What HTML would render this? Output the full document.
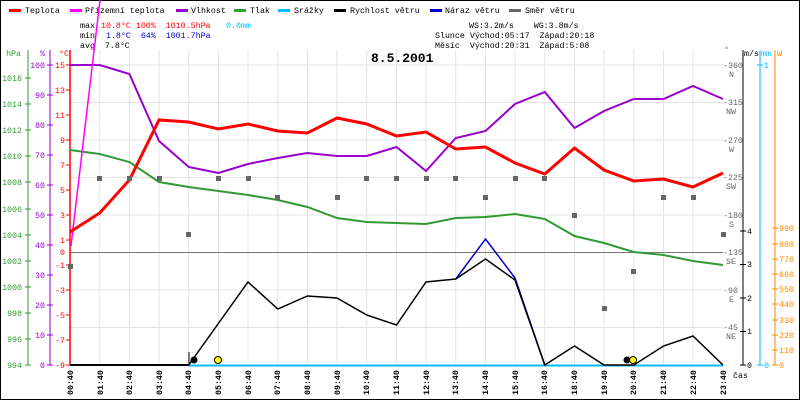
<!DOCTYPE html><html><head><style>body{margin:0;background:#fff}svg{display:block;font-family:"Liberation Mono",monospace}</style></head><body>
<svg width="800" height="400" xmlns="http://www.w3.org/2000/svg">
<rect x="0.5" y="0.5" width="799" height="399" fill="#fff" stroke="#000"/>
<g font-size="8.3">
<rect x="9" y="9" width="12" height="3" fill="#f00"/><text x="25" y="13">Teplota</text>
<rect x="70" y="9" width="12" height="3" fill="#f0f"/><text x="85" y="13">Přízemní teplota</text>
<rect x="176" y="9" width="12" height="3" fill="#90c"/><text x="191" y="13">Vlhkost</text>
<rect x="234" y="9" width="12" height="3" fill="#393"/><text x="250" y="13">Tlak</text>
<rect x="278" y="9" width="12" height="3" fill="#0bf"/><text x="294" y="13">Srážky</text>
<rect x="334" y="9" width="12" height="3" fill="#000"/><text x="350" y="13">Rychlost větru</text>
<rect x="430" y="9" width="12" height="3" fill="#00c"/><text x="445" y="13">Náraz větru</text>
<rect x="509" y="9" width="12" height="3" fill="#666"/><text x="525" y="13">Směr větru</text>
<text x="80" y="28" xml:space="preserve">max</text><text x="101" y="28" fill="#f00" xml:space="preserve">10.8°C 100%  1010.5hPa</text><text x="226" y="28" fill="#0bf">0.0mm</text>
<text x="80" y="38" xml:space="preserve">min</text><text x="101" y="38" fill="#00c" xml:space="preserve"> 1.8°C  64%  1001.7hPa</text>
<text x="80" y="48" xml:space="preserve">avg  7.8°C</text>
<text x="469" y="28" xml:space="preserve">WS:3.2m/s    WG:3.8m/s</text>
<text x="435" y="38" xml:space="preserve">Slunce Východ:05:17  Západ:20:18</text>
<text x="435" y="48" xml:space="preserve">Měsíc  Východ:20:31  Západ:5:08</text>
</g>
<text x="371" y="62" font-size="13" font-weight="bold">8.5.2001</text>
<g stroke="#e4e4e4" stroke-width="1">
<path d="M70 102.5H723M70 140H723M70 177.5H723M70 215H723M70 290H723M70 327.5H723M70 65H723"/>
<path d="M99.7 50V365M129.4 50V365M159 50V365M188.7 50V365M218.4 50V365M248 50V365M277.8 50V365M307.4 50V365M337 50V365M366.8 50V365M396.5 50V365M426 50V365M455.8 50V365M485.5 50V365M515 50V365M544.8 50V365M574.5 50V365M604 50V365M633.8 50V365M663.5 50V365M693 50V365"/>
</g>
<line x1="70" y1="252.5" x2="723" y2="252.5" stroke="#777"/>
<g font-size="8.3" text-anchor="end">
<line x1="28" y1="50" x2="28" y2="365" stroke="#393"/>
<path stroke="#393" d="M25 365H31M25 339H31M25 313H31M25 287H31M25 261H31M25 235H31M25 209H31M25 182H31M25 156H31M25 130H31M25 104H31M25 78H31"/>
<text x="21" y="56" fill="#393">hPa</text>
<g fill="#393">
<text x="22" y="368">994</text><text x="22" y="342">996</text><text x="22" y="316">998</text><text x="22" y="290">1000</text><text x="22" y="264">1002</text><text x="22" y="238">1004</text><text x="22" y="212">1006</text><text x="22" y="185">1008</text><text x="22" y="159">1010</text><text x="22" y="133">1012</text><text x="22" y="107">1014</text><text x="22" y="81">1016</text>
</g>
<line x1="50" y1="50" x2="50" y2="365" stroke="#90c"/>
<path stroke="#90c" d="M47 365H53M47 335H53M47 305H53M47 275H53M47 245H53M47 215H53M47 185H53M47 155H53M47 125H53M47 95H53M47 65H53"/>
<g fill="#90c"><text x="45" y="56">%</text>
<text x="45" y="368">0</text><text x="45" y="338">10</text><text x="45" y="308">20</text><text x="45" y="278">30</text><text x="45" y="248">40</text><text x="45" y="218">50</text><text x="45" y="188">60</text><text x="45" y="158">70</text><text x="45" y="128">80</text><text x="45" y="98">90</text><text x="45" y="68">100</text></g>
<line x1="70" y1="50" x2="70" y2="365" stroke="#f00" stroke-width="1.5"/>
<path stroke="#f00" d="M66 65H70M66 90H70M66 115H70M66 140H70M66 165H70M66 190H70M66 215H70M66 240H70M66 265H70M66 290H70M66 315H70M66 340H70M66 365H70"/>
<g fill="#f00"><text x="69" y="56">°C</text>
<text x="65" y="68">15</text><text x="65" y="93">13</text><text x="65" y="118">11</text><text x="65" y="143">9</text><text x="65" y="168">7</text><text x="65" y="193">5</text><text x="65" y="218">3</text><text x="65" y="243">1</text><text x="65" y="255">0</text><text x="65" y="268">-1</text><text x="65" y="293">-3</text><text x="65" y="318">-5</text><text x="65" y="343">-7</text><text x="65" y="368">-9</text></g>
</g>
<g font-size="8.3" fill="#666">
<text x="724" y="52">°</text>
<text x="723" y="68">-360</text><text x="729" y="77">N</text>
<text x="723" y="105">-315</text><text x="726" y="114">NW</text>
<text x="723" y="143">-270</text><text x="729" y="152">W</text>
<text x="723" y="180">-225</text><text x="726" y="189">SW</text>
<text x="723" y="218">-180</text><text x="729" y="227">S</text>
<text x="723" y="255">-135</text><text x="726" y="264">SE</text>
<text x="723" y="293">-90</text><text x="729" y="302">E</text>
<text x="723" y="330">-45</text><text x="726" y="339">NE</text>
</g>
<line x1="743" y1="50" x2="743" y2="365" stroke="#000"/>
<line x1="760" y1="50" x2="760" y2="365" stroke="#0bf"/>
<line x1="775" y1="50" x2="775" y2="365" stroke="#f80"/>
<path stroke="#000" d="M740 365H746M740 331.5H746M740 298H746M740 264.5H746M740 231H746"/>
<path stroke="#0bf" d="M757 365H763M757 65H763"/>
<path stroke="#f80" d="M772 365H778M772 350H778M772 335H778M772 320H778M772 304H778M772 289H778M772 274H778M772 259H778M772 244H778M772 228H778"/>
<g font-size="8.3"><text x="744" y="56">m/s</text><text x="761" y="56" fill="#0bf">mm</text><text x="777" y="56" fill="#f80">W</text>
<text x="747" y="368">0</text><text x="747" y="334">1</text><text x="747" y="301">2</text><text x="747" y="267">3</text><text x="747" y="234">4</text>
<text x="764" y="68" fill="#0bf">1</text><text x="764" y="368" fill="#0bf">0</text>
<g fill="#f80"><text x="779" y="368">0</text><text x="779" y="353">110</text><text x="779" y="338">220</text><text x="779" y="323">330</text><text x="779" y="307">440</text><text x="779" y="292">550</text><text x="779" y="277">660</text><text x="779" y="262">770</text><text x="779" y="247">880</text><text x="779" y="231">990</text></g>
</g>
<polyline fill="none" stroke="#393" stroke-width="2" points="70,150 99.7,154 129.4,162 159,182 188.7,187 218.4,191 248,195 277.8,200 307.4,207 337,218 366.8,222 396.5,223 426,224 455.8,218 485.5,217 515,214 544.8,219 574.5,236 604,243 633.8,252 663.5,255 693,261 723,265"/>
<polyline fill="none" stroke="#90c" stroke-width="2" points="70,65 99.7,65 129.4,74 159,141 188.7,167 218.4,173 248,164 277.8,158 307.4,153 337,156 366.8,156 396.5,147 426,171 455.8,138 485.5,131 515,104 544.8,92 574.5,128 604,111 633.8,99 663.5,99 693,86 723,99"/>
<polyline fill="none" stroke="#f0f" stroke-width="1.5" points="71,246 100,0"/>
<polyline fill="none" stroke="#f00" stroke-width="3" points="70,232 99.7,213 129.4,180 159,120 188.7,122 218.4,129 248,124 277.8,131 307.4,133 337,118 366.8,124 396.5,136 426,132 455.8,149 485.5,147 515,163 544.8,174 574.5,148 604,170 633.8,181 663.5,179 693,187 723,173"/>
<line x1="188" y1="365.5" x2="723" y2="365.5" stroke="#0bf" stroke-width="2"/>
<polyline fill="none" stroke="#00c" stroke-width="1.5" points="455.8,279 485.5,239 515,278 544.8,365"/>
<polyline fill="none" stroke="#000" stroke-width="1.5" points="70,365 188.7,365 248,282 277.8,309 307.4,296 337,298 366.8,315 396.5,325 426,282 455.8,279 485.5,259 515,280 544.8,365 574.5,346 604,365 633.8,365 663.5,346 693,336 723,365"/>
<line x1="70" y1="365" x2="188" y2="365" stroke="#000" stroke-width="2"/>
<line x1="189" y1="352" x2="189" y2="365" stroke="#000"/>
<g fill="#666">
<rect x="68" y="264" width="5" height="5"/><rect x="97" y="176" width="5" height="5"/><rect x="127" y="176" width="5" height="5"/><rect x="157" y="176" width="5" height="5"/><rect x="186" y="232" width="5" height="5"/><rect x="216" y="176" width="5" height="5"/><rect x="246" y="176" width="5" height="5"/><rect x="275" y="195" width="5" height="5"/><rect x="335" y="195" width="5" height="5"/><rect x="364" y="176" width="5" height="5"/><rect x="394" y="176" width="5" height="5"/><rect x="424" y="176" width="5" height="5"/><rect x="453" y="176" width="5" height="5"/><rect x="483" y="195" width="5" height="5"/><rect x="513" y="176" width="5" height="5"/><rect x="542" y="176" width="5" height="5"/><rect x="572" y="213" width="5" height="5"/><rect x="602" y="306" width="5" height="5"/><rect x="631" y="269" width="5" height="5"/><rect x="661" y="195" width="5" height="5"/><rect x="691" y="195" width="5" height="5"/><rect x="721" y="232" width="5" height="5"/>
</g>
<circle cx="194" cy="360" r="3.5" fill="#000"/>
<circle cx="218" cy="360" r="3.5" fill="#ff0" stroke="#000"/>
<circle cx="627" cy="360" r="3.5" fill="#000"/>
<circle cx="633" cy="360" r="3.5" fill="#ff0" stroke="#000"/>
<g font-size="8.3" font-weight="bold">
<text transform="translate(73,395) rotate(-90)">00:40</text><text transform="translate(103,395) rotate(-90)">01:40</text><text transform="translate(132,395) rotate(-90)">02:40</text><text transform="translate(162,395) rotate(-90)">03:40</text><text transform="translate(191,395) rotate(-90)">04:40</text><text transform="translate(221,395) rotate(-90)">05:40</text><text transform="translate(251,395) rotate(-90)">06:40</text><text transform="translate(280,395) rotate(-90)">07:40</text><text transform="translate(310,395) rotate(-90)">08:40</text><text transform="translate(340,395) rotate(-90)">09:40</text><text transform="translate(369,395) rotate(-90)">10:40</text><text transform="translate(399,395) rotate(-90)">11:40</text><text transform="translate(429,395) rotate(-90)">12:40</text><text transform="translate(458,395) rotate(-90)">13:40</text><text transform="translate(488,395) rotate(-90)">14:40</text><text transform="translate(518,395) rotate(-90)">15:40</text><text transform="translate(547,395) rotate(-90)">16:40</text><text transform="translate(577,395) rotate(-90)">18:40</text><text transform="translate(607,395) rotate(-90)">19:40</text><text transform="translate(636,395) rotate(-90)">20:40</text><text transform="translate(666,395) rotate(-90)">21:40</text><text transform="translate(696,395) rotate(-90)">22:40</text><text transform="translate(726,395) rotate(-90)">23:40</text>
</g>
<text x="733" y="378" font-size="8.3">čas</text>
</svg>
</body></html>
